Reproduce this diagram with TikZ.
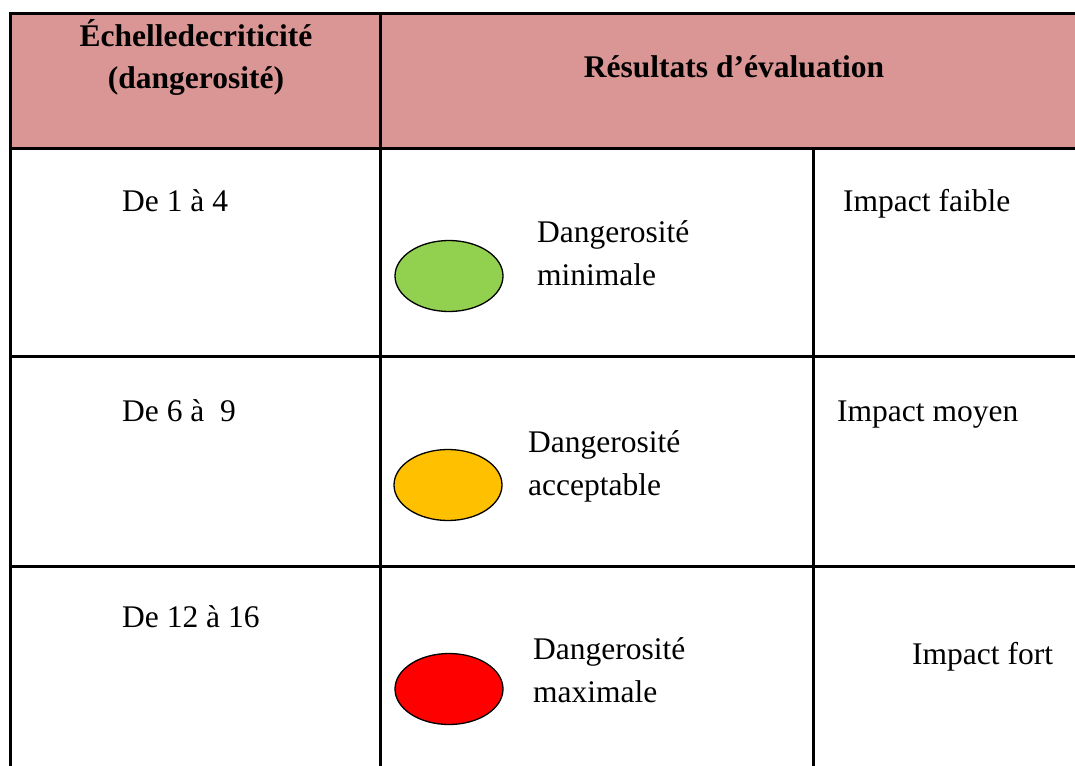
\documentclass[tikz,border=0pt]{standalone}
\usepackage{fontspec}
\setmainfont{Liberation Serif}
\usetikzlibrary{shapes.geometric}
\definecolor{headpink}{HTML}{D99694}
\definecolor{lowgreen}{HTML}{92D050}
\definecolor{midorange}{HTML}{FFC000}
\definecolor{highred}{HTML}{FF0000}
\begin{document}
\begin{tikzpicture}[x=1pt,y=-1pt,
  rule/.style={line width=3pt},
  txt/.style={font=\fontsize{31.5}{43}\selectfont, inner sep=0pt, anchor=base west},
  headtxt/.style={font=\bfseries\fontsize{31.5}{43}\selectfont, inner sep=0pt, anchor=base},
  lamp/.style={ellipse, draw=black, line width=1.3pt, minimum width=108pt, minimum height=71pt, inner sep=0pt}]
\clip (0,0) rectangle (1075,765);
\fill[white] (0,0) rectangle (1075,765);
% header band
\fill[headpink] (10,14) rectangle (1080,148);
% table rules
\draw[rule] (10,770) -- (10,14) -- (1080,14);
\draw[rule] (10,148) -- (1080,148);
\draw[rule] (10,356) -- (1080,356);
\draw[rule] (10,566) -- (1080,566);
\draw[rule] (380,14) -- (380,770);
\draw[rule] (813,148) -- (813,770);
% header texts
\node[headtxt] (h1a) at (196,47) {Échelledecriticité};
\node[headtxt] (h1b) at (196,89) {(dangerosité)};
\node[headtxt] (h2) at (734,78) {Résultats d’évaluation};
% row 1
\node[txt] (r1a) at (122,211) {De 1 à 4};
\node[lamp, fill=lowgreen] (e1) at (449,276) {};
\node[txt] (r1b) at (537,242) {Dangerosité};
\node[txt] (r1c) at (537,285) {minimale};
\node[txt] (r1d) at (843,211) {Impact faible};
% row 2
\node[txt] (r2a) at (122,421) {De 6 à\ \ 9};
\node[lamp, fill=midorange] (e2) at (448,485) {};
\node[txt] (r2b) at (528,452) {Dangerosité};
\node[txt] (r2c) at (528,495) {acceptable};
\node[txt] (r2d) at (837,421) {Impact moyen};
% row 3
\node[txt] (r3a) at (122,627) {De 12 à 16};
\node[lamp, fill=highred] (e3) at (449,689) {};
\node[txt] (r3b) at (533,659) {Dangerosité};
\node[txt] (r3c) at (533,702) {maximale};
\node[txt] (r3d) at (912,664) {Impact fort};
\end{tikzpicture}
\end{document}
